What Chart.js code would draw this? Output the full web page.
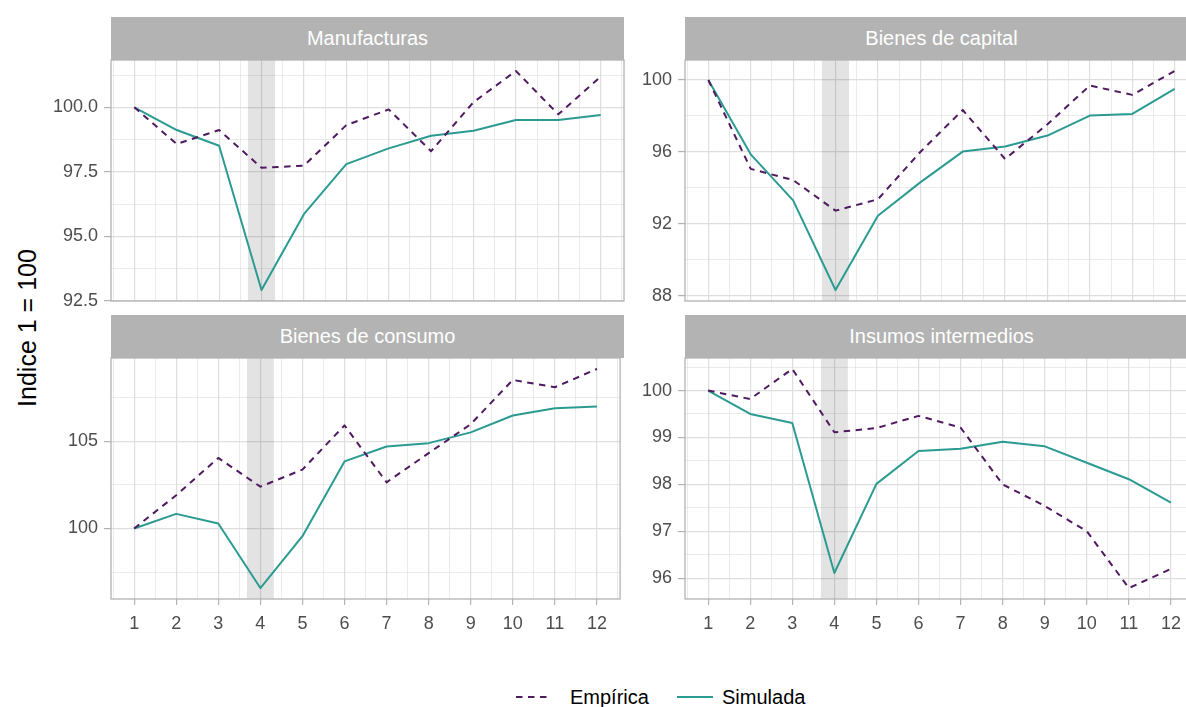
<!DOCTYPE html>
<html lang="es">
<head>
<meta charset="UTF-8">
<title>Indice 1 = 100</title>
<script src="https://cdn.jsdelivr.net/npm/chart.js"></script>
<style>
  html, body { margin: 0; padding: 0; overflow: hidden; background: #fff; }
  body { width: 1186px; height: 707px; position: relative; font-family: "Liberation Sans", Arial, sans-serif; }
  canvas { position: absolute; }
  .strip { position: absolute; height: 43px; line-height: 43px; background: #b3b3b3; color: #fff; font-size: 20px; text-align: center; }
  #ytitle { position: absolute; left: 27px; top: 328px; transform: translate(-50%, -50%) rotate(-90deg); font-size: 25px; white-space: nowrap; color: #000; }
  .legtext { position: absolute; top: 684px; font-size: 20px; line-height: 26px; color: #000; }
  .legkey { position: absolute; top: 687px; }
</style>
</head>
<body>
<div id="ytitle">Indice 1 = 100</div>

<script>
    const months = [1, 2, 3, 4, 5, 6, 7, 8, 9, 10, 11, 12];
    const manufacturasEmpirica = [100, 98.58, 99.12, 97.66, 97.74, 99.31, 99.92, 98.30, 100.2, 101.41, 99.73, 101.19];
    const manufacturasSimulada = [100, 99.12, 98.51, 92.92, 95.86, 97.80, 98.41, 98.90, 99.09, 99.51, 99.51, 99.70];
    const capitalEmpirica = [100, 95.06, 94.44, 92.74, 93.37, 96.0, 98.33, 95.61, 97.54, 99.69, 99.17, 100.5];
    const capitalSimulada = [100, 95.87, 93.31, 88.33, 92.46, 94.31, 96.02, 96.30, 96.91, 98.02, 98.11, 99.5];
    const consumoEmpirica = [100, 101.91, 104.05, 102.40, 103.38, 105.92, 102.65, 104.33, 105.99, 108.53, 108.11, 109.16];
    const consumoSimulada = [100, 100.84, 100.29, 96.58, 99.56, 103.85, 104.71, 104.90, 105.52, 106.49, 106.91, 107.0];
    const insumosEmpirica = [100, 99.82, 100.46, 99.11, 99.2, 99.46, 99.21, 98.0, 97.54, 97.0, 95.79, 96.2];
    const insumosSimulada = [100, 99.5, 99.31, 96.11, 98.01, 98.71, 98.76, 98.91, 98.81, 98.46, 98.11, 97.61];
    const panelTitles = ['Manufacturas', 'Bienes de capital', 'Bienes de consumo', 'Insumos intermedios'];
    const seriesNames = ['Empírica', 'Simulada'];
    const shockBand = [3.68, 4.32];

    const EMP_COLOR = '#4f1a5f';
    const SIM_COLOR = '#2b9b92';
    const FONT = '"Liberation Sans", Arial, sans-serif';
    const STRIP_H = 43, PLOT_W = 513, PLOT_H = 241;
    const AXIS_W = 60, AXIS_H = 40, PAD_TOP = 20, PAD_RIGHT = 2;

    const panels = [
        { title: panelTitles[0], emp: manufacturasEmpirica, sim: manufacturasSimulada, left: 111, top: 17, major: 2.5, minor: 1.25, decimals: 1, showX: false },
        { title: panelTitles[1], emp: capitalEmpirica, sim: capitalSimulada, left: 685, top: 17, major: 4, minor: 2, decimals: 0, showX: false },
        { title: panelTitles[2], emp: consumoEmpirica, sim: consumoSimulada, left: 111, top: 315, major: 5, minor: 2.5, decimals: 0, showX: true },
        { title: panelTitles[3], emp: insumosEmpirica, sim: insumosSimulada, left: 685, top: 315, major: 1, minor: 0.5, decimals: 0, showX: true }
    ];

    function isMajor(v, step) {
        return Math.abs(v / step - Math.round(v / step)) < 1e-6;
    }

    // grey band over the shock month
    const shadePlugin = {
        id: 'shade',
        beforeDatasetsDraw(chart) {
            const { ctx, chartArea, scales } = chart;
            const x1 = scales.x.getPixelForValue(shockBand[0]);
            const x2 = scales.x.getPixelForValue(shockBand[1]);
            ctx.save();
            ctx.fillStyle = 'rgba(0,0,0,0.11)';
            ctx.fillRect(x1, chartArea.top, x2 - x1, chartArea.bottom - chartArea.top);
            ctx.restore();
        }
    };

    // panel border on all four sides (theme_light)
    const borderPlugin = {
        id: 'panelBorder',
        afterDraw(chart) {
            const { ctx, chartArea } = chart;
            ctx.save();
            ctx.strokeStyle = '#b3b3b3';
            ctx.lineWidth = 1.3;
            ctx.strokeRect(chartArea.left, chartArea.top, chartArea.right - chartArea.left, chartArea.bottom - chartArea.top);
            ctx.restore();
        }
    };

    function makePanel(p) {
        const strip = document.createElement('div');
        strip.className = 'strip';
        strip.style.left = p.left + 'px';
        strip.style.top = p.top + 'px';
        strip.style.width = PLOT_W + 'px';
        strip.textContent = p.title;
        document.body.appendChild(strip);

        const canvas = document.createElement('canvas');
        canvas.width = AXIS_W + PLOT_W + PAD_RIGHT;
        canvas.height = PAD_TOP + PLOT_H + AXIS_H;
        canvas.style.left = (p.left - AXIS_W) + 'px';
        canvas.style.top = (p.top + STRIP_H - PAD_TOP) + 'px';
        document.body.insertBefore(canvas, document.body.firstChild);

        const all = p.emp.concat(p.sim);
        const lo = Math.min(...all), hi = Math.max(...all);
        const expand = (hi - lo) * 0.05;

        new Chart(canvas, {
            type: 'line',
            data: {
                datasets: [
                    {
                        label: seriesNames[0],
                        data: months.map((m, i) => ({ x: m, y: p.emp[i] })),
                        borderColor: EMP_COLOR,
                        borderWidth: 2,
                        borderDash: [6.5, 5.5],
                        borderJoinStyle: 'round',
                        pointRadius: 0,
                        fill: false
                    },
                    {
                        label: seriesNames[1],
                        data: months.map((m, i) => ({ x: m, y: p.sim[i] })),
                        borderColor: SIM_COLOR,
                        borderWidth: 2,
                        borderJoinStyle: 'round',
                        pointRadius: 0,
                        fill: false
                    }
                ]
            },
            options: {
                responsive: false,
                animation: false,
                devicePixelRatio: 1,
                layout: { padding: { top: PAD_TOP, right: PAD_RIGHT, left: 0, bottom: 0 } },
                plugins: { legend: { display: false }, tooltip: { enabled: false } },
                scales: {
                    x: {
                        type: 'linear',
                        min: 0.45,
                        max: 12.55,
                        afterFit: s => { s.height = AXIS_H; },
                        border: { display: false },
                        ticks: {
                            stepSize: 0.5,
                            includeBounds: false,
                            autoSkip: false,
                            maxRotation: 0,
                            display: p.showX,
                            color: '#4d4d4d',
                            font: { family: FONT, size: 18 },
                            padding: 8,
                            callback: v => isMajor(v, 1) ? String(v) : ''
                        },
                        grid: {
                            color: '#dedede',
                            lineWidth: c => (c.tick && isMajor(c.tick.value, 1)) ? 1.2 : 0.6,
                            drawTicks: p.showX,
                            tickLength: 6,
                            tickWidth: 1.2,
                            tickColor: c => (c.tick && isMajor(c.tick.value, 1)) ? '#b3b3b3' : 'rgba(0,0,0,0)'
                        }
                    },
                    y: {
                        type: 'linear',
                        min: lo - expand,
                        max: hi + expand,
                        afterFit: s => { s.width = AXIS_W; },
                        border: { display: false },
                        ticks: {
                            stepSize: p.minor,
                            includeBounds: false,
                            autoSkip: false,
                            color: '#4d4d4d',
                            font: { family: FONT, size: 18 },
                            padding: 6,
                            callback: v => isMajor(v, p.major) ? v.toFixed(p.decimals) : ''
                        },
                        grid: {
                            color: '#dedede',
                            lineWidth: c => (c.tick && isMajor(c.tick.value, p.major)) ? 1.2 : 0.6,
                            tickLength: 7,
                            tickWidth: 1.2,
                            tickColor: c => (c.tick && isMajor(c.tick.value, p.major)) ? '#b3b3b3' : 'rgba(0,0,0,0)'
                        }
                    }
                }
            },
            plugins: [shadePlugin, borderPlugin]
        });
    }

    panels.forEach(makePanel);

    // legend below the panels
    function legendItem(name, keyLeft, textLeft, dashed, color) {
        const svg = document.createElementNS('http://www.w3.org/2000/svg', 'svg');
        svg.setAttribute('class', 'legkey');
        svg.setAttribute('width', '36');
        svg.setAttribute('height', '20');
        svg.style.left = keyLeft + 'px';
        const line = document.createElementNS('http://www.w3.org/2000/svg', 'line');
        line.setAttribute('x1', '0'); line.setAttribute('x2', '36');
        line.setAttribute('y1', '10'); line.setAttribute('y2', '10');
        line.setAttribute('stroke', color);
        line.setAttribute('stroke-width', '2');
        if (dashed) line.setAttribute('stroke-dasharray', '6.5 5.5');
        svg.appendChild(line);
        document.body.appendChild(svg);

        const t = document.createElement('div');
        t.className = 'legtext';
        t.style.left = textLeft + 'px';
        t.textContent = name;
        document.body.appendChild(t);
    }
    legendItem(seriesNames[0], 516, 570, true, EMP_COLOR);
    legendItem(seriesNames[1], 677, 722, false, SIM_COLOR);
</script>
</body>
</html>
